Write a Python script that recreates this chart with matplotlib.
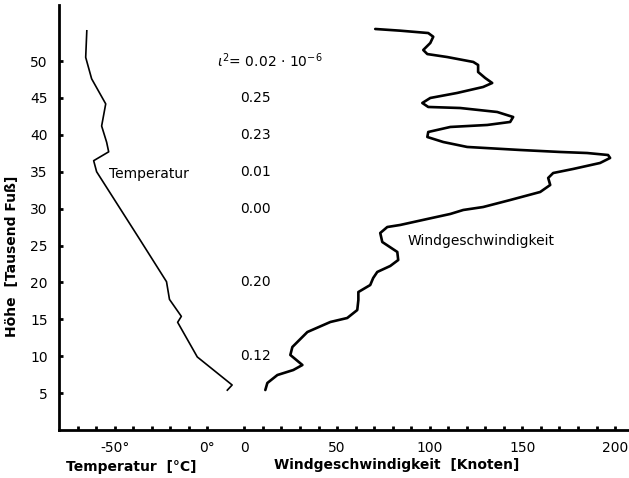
import numpy as np
import matplotlib.pyplot as plt

# Temperatur-Profil (Grad C) ueber Hoehe (Tausend Fuss)
temp_c = [-65, -65.6, -62.4, -54.8, -57, -54.3, -53.2, -61.3, -59.7,
          -36.6, -22, -20.4, -14, -16, -5.4, 13.4, 10.8]
temp_h = [54.1, 50.5, 47.6, 44.2, 41.2, 39.0, 37.7, 36.5, 35.0,
          25.9, 20.1, 17.7, 15.4, 14.6, 9.9, 6.1, 5.4]

# Windgeschwindigkeit (Knoten) ueber Hoehe
wind_kn = [70.6, 84.1, 99.2, 101.9, 100.3, 96.5, 98.7, 109.4, 123.5, 126.1,
           126.1, 129.9, 133.7, 128.8, 114.8, 100.3, 96.0, 99.2, 116.4, 136.4,
           145.0, 143.4, 131.0, 111.1, 99.2, 98.7, 107.3, 120.2, 148.8, 170.4,
           184.9, 196.2, 197.3, 191.9, 177.4, 166.6, 163.9, 165.0, 159.6, 143.4,
           128.8, 118.1, 111.1, 98.7, 84.1, 77.1, 73.3, 74.4, 82.5, 83.0,
           78.7, 71.7, 69.5, 67.9, 61.5, 61.5, 60.9, 55.5, 46.4, 34.0,
           25.9, 24.8, 31.3, 26.4, 17.8, 12.4, 11.3]
wind_h = [54.35, 54.12, 53.8, 53.3, 52.45, 51.5, 50.95, 50.55, 49.88, 49.47,
          48.52, 47.71, 47.03, 46.49, 45.68, 45.0, 44.32, 43.78, 43.64, 43.1,
          42.42, 41.75, 41.34, 41.07, 40.39, 39.71, 39.03, 38.36, 37.95, 37.68,
          37.54, 37.27, 36.87, 36.19, 35.38, 34.83, 34.16, 33.21, 32.26, 31.17,
          30.22, 29.82, 29.28, 28.6, 27.79, 27.51, 26.7, 25.48, 24.13, 23.04,
          22.23, 21.42, 20.6, 19.65, 18.7, 17.62, 16.26, 15.18, 14.64, 13.28,
          11.25, 10.17, 8.81, 8.13, 7.45, 6.37, 5.42]

# Richardson-Zahlen
ri_h = [45, 40, 35, 30, 20, 10]
ri_vals = ['0.25', '0.23', '0.01', '0.00', '0.20', '0.12']

yticks = [5, 10, 15, 20, 25, 30, 35, 40, 45, 50]
temp_ticks = [-50, 0]
wind_ticks = [0, 50, 100, 150, 200]
offset = -20  # Temperatur-Skala liegt links neben der Wind-Skala

fig = plt.figure(figsize=(6.29, 4.78), dpi=100)
ax = fig.add_axes([59 / 629, 48 / 478, 570 / 629, 425 / 478])

ax.plot(np.array(temp_c) + offset, temp_h, color='black', lw=1.2)
ax.plot(wind_kn, wind_h, color='black', lw=1.9, solid_joinstyle='round',
        solid_capstyle='round')

ax.set_xlim(-100, 207.5)
ax.set_ylim(0, 57.6)
for s in ['top', 'right']:
    ax.spines[s].set_visible(False)
for s in ['left', 'bottom']:
    ax.spines[s].set_linewidth(2)

xt = [t + offset for t in temp_ticks] + wind_ticks
xl = ['-50°', '0°'] + [str(w) for w in wind_ticks]
ax.set_xticks(xt)
ax.set_xticklabels(xl)
minor = list(np.arange(-90, -19, 10)) + list(np.arange(0, 201, 10))
ax.set_xticks(minor, minor=True)
ax.set_yticks(yticks)
ax.tick_params(axis='both', which='both', direction='in', length=3, width=2,
               labelsize=10, pad=8)

ax.text(-73, 34.7, 'Temperatur', fontsize=10, va='center')
ax.text(88, 25.6, 'Windgeschwindigkeit', fontsize=10, va='center')
ax.text(-14.6, 50, r'$\iota^2$= 0.02 $\cdot$ 10$^{-6}$', fontsize=10, va='center')
for h, v in zip(ri_h, ri_vals):
    ax.text(6, h, v, fontsize=10, ha='center', va='center')

fig.text(12 / 629, 1 - 256 / 478, 'Höhe  [Tausend Fuß]', rotation=90,
         ha='center', va='center', fontsize=10, fontweight='bold')
fig.text(131 / 629, 1 - 467 / 478, 'Temperatur  [°C]', ha='center',
         va='center', fontsize=10, fontweight='bold')
fig.text(397 / 629, 1 - 465 / 478, 'Windgeschwindigkeit  [Knoten]', ha='center',
         va='center', fontsize=10, fontweight='bold')

fig.savefig('out.png', dpi=100)
